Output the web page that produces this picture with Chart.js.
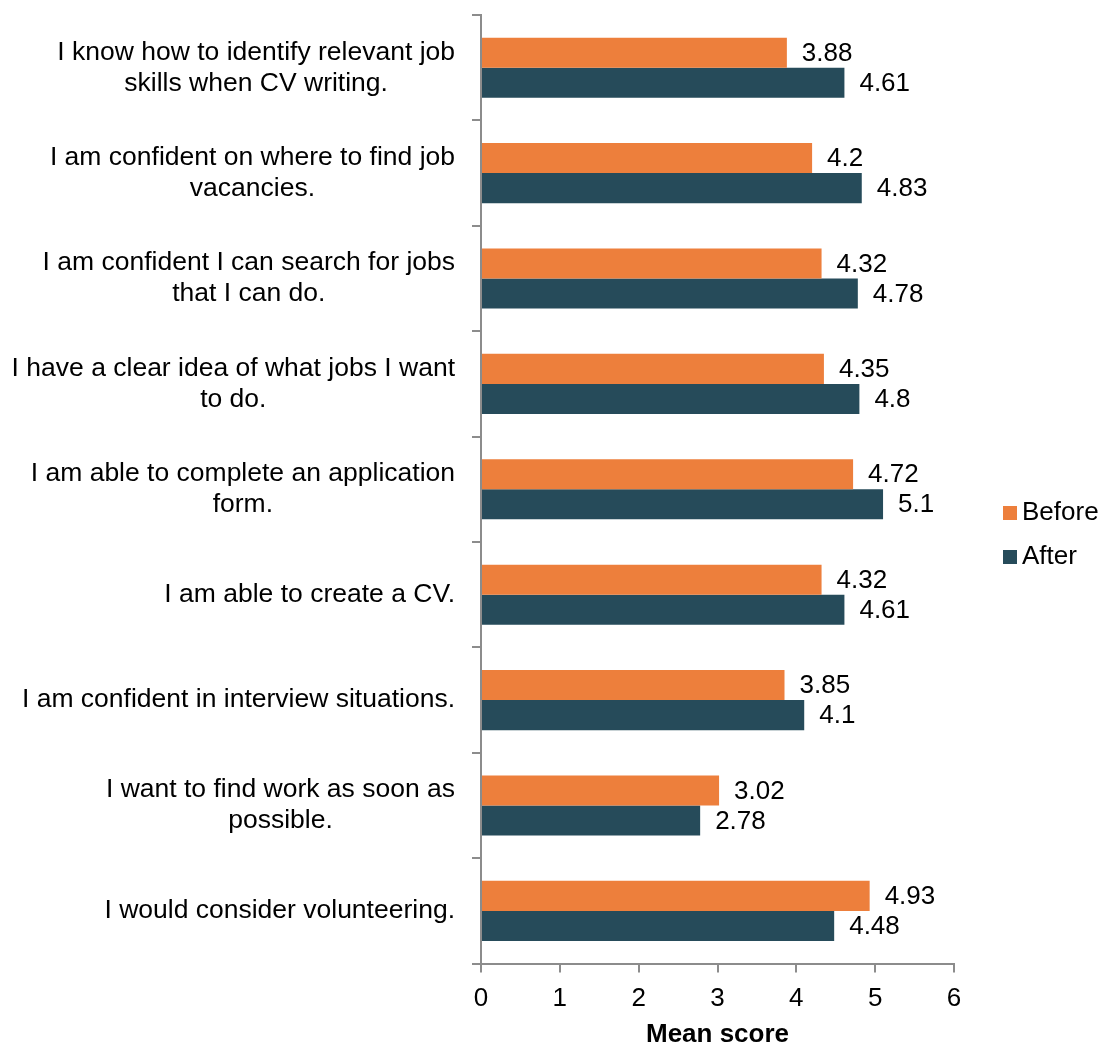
<!DOCTYPE html>
<html>
<head>
<meta charset="utf-8">
<script src="https://cdn.jsdelivr.net/npm/chart.js@4/dist/chart.umd.min.js"></script>
<style>
  body { margin: 0; background: #fff; }
  #wrap { width: 1103px; height: 1046px; }
</style>
</head>
<body>
<div id="wrap"><canvas id="chart" width="1103" height="1046"></canvas></div>
<script>
const categories = [
  ["I know how to identify relevant job", "skills when CV writing."],
  ["I am confident on where to find job", "vacancies."],
  ["I am confident I can search for jobs", "that I can do."],
  ["I have a clear idea of what jobs I want", "to do."],
  ["I am able to complete an application", "form."],
  "I am able to create a CV.",
  "I am confident in interview situations.",
  ["I want to find work as soon as", "possible."],
  "I would consider volunteering."
];
const beforeValues = [3.88, 4.2, 4.32, 4.35, 4.72, 4.32, 3.85, 3.02, 4.93];
const afterValues = [4.61, 4.83, 4.78, 4.8, 5.1, 4.61, 4.1, 2.78, 4.48];
const xTicks = [0, 1, 2, 3, 4, 5, 6];

const FONT = "'Liberation Sans', Arial, sans-serif";
const axisGray = "#8c8c8c";

// value labels at the end of each bar
const valueLabels = {
  id: "valueLabels",
  afterDatasetsDraw(chart) {
    const ctx = chart.ctx;
    ctx.save();
    ctx.font = "26px " + FONT;
    ctx.fillStyle = "#000";
    ctx.textAlign = "left";
    ctx.textBaseline = "middle";
    chart.data.datasets.forEach((ds, i) => {
      chart.getDatasetMeta(i).data.forEach((bar, j) => {
        ctx.fillText(String(ds.data[j]), bar.x + 15, bar.y + 1);
      });
    });
    ctx.restore();
  }
};

// category labels: block right aligned to the axis, lines centred in the block (like Excel)
const categoryLabels = {
  id: "categoryLabels",
  afterDraw(chart) {
    const ctx = chart.ctx;
    const yScale = chart.scales.y;
    const right = yScale.right - 26;
    const lineH = 31;
    ctx.save();
    ctx.font = "26.5px " + FONT;
    ctx.fillStyle = "#000";
    ctx.textAlign = "center";
    ctx.textBaseline = "middle";
    chart.data.labels.forEach((label, i) => {
      const lines = Array.isArray(label) ? label : [label];
      const widest = Math.max(...lines.map((l) => ctx.measureText(l).width));
      const cx = right - widest / 2;
      const cy = yScale.getPixelForTick(i);
      lines.forEach((line, k) => {
        ctx.fillText(line, cx, cy + (k - (lines.length - 1) / 2) * lineH);
      });
    });
    ctx.restore();
  }
};

// legend on the right, a bit below the middle like the original
const sideLegend = {
  id: "sideLegend",
  afterDraw(chart) {
    const ctx = chart.ctx;
    const x = chart.chartArea.right + 49;
    let y = 513;
    ctx.save();
    ctx.font = "26px " + FONT;
    ctx.textAlign = "left";
    ctx.textBaseline = "middle";
    chart.data.datasets.forEach((ds) => {
      ctx.fillStyle = ds.backgroundColor;
      ctx.fillRect(x, y - 7, 14, 14);
      ctx.fillStyle = "#000";
      ctx.fillText(ds.label, x + 19, y);
      y += 44;
    });
    ctx.restore();
  }
};

Chart.defaults.font.family = FONT;
Chart.defaults.font.size = 26;
Chart.defaults.color = "#000";

new Chart(document.getElementById("chart"), {
  type: "bar",
  data: {
    labels: categories,
    datasets: [
      {
        label: "Before",
        data: beforeValues,
        backgroundColor: "#ed7f3c",
        barPercentage: 1,
        categoryPercentage: 0.57
      },
      {
        label: "After",
        data: afterValues,
        backgroundColor: "#264b5a",
        barPercentage: 1,
        categoryPercentage: 0.57
      }
    ]
  },
  options: {
    indexAxis: "y",
    responsive: false,
    animation: false,
    layout: { padding: { top: 15, right: 149, bottom: 0, left: 0 } },
    plugins: {
      tooltip: { enabled: false },
      legend: { display: false }
    },
    scales: {
      x: {
        min: 0,
        max: 6,
        afterBuildTicks: (axis) => {
          axis.ticks = xTicks.map((v) => ({ value: v }));
        },
        border: { color: axisGray, width: 2 },
        grid: { drawOnChartArea: false, color: axisGray, lineWidth: 2, tickLength: 9 },
        ticks: { padding: 11, font: { size: 26 } },
        title: {
          display: true,
          text: "Mean score",
          font: { size: 26, weight: "bold" },
          padding: { top: -7, bottom: -4 }
        }
      },
      y: {
        afterFit: (scale) => {
          scale.width = 481;
          scale.paddingTop = 0;
          scale.paddingBottom = 0;
        },
        border: { color: axisGray, width: 2 },
        grid: { drawOnChartArea: false, color: axisGray, lineWidth: 2, tickLength: 9 },
        ticks: { display: false }
      }
    }
  },
  plugins: [valueLabels, categoryLabels, sideLegend]
});
</script>
</body>
</html>
